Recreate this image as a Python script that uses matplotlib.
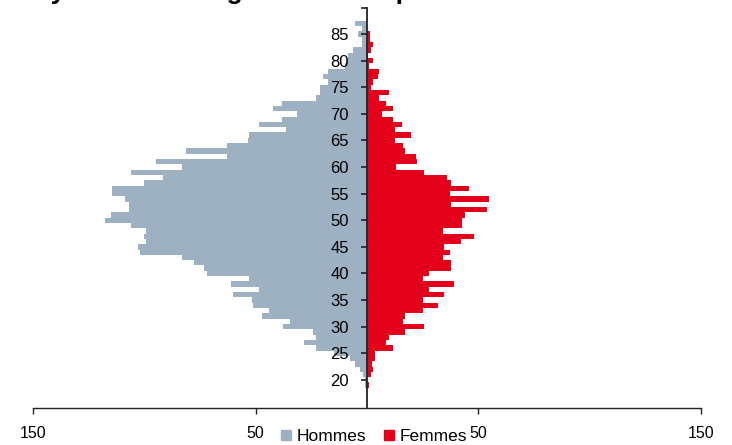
import matplotlib
matplotlib.use("Agg")
import matplotlib.pyplot as plt
from matplotlib.lines import Line2D

plt.rcParams['font.family'] = ['Liberation Sans', 'DejaVu Sans']

title = "Pyramide des âges de l'entreprise"
ages = list(range(19, 89))
hommes = [0.8, 1.0, 2.0, 3.1, 5.4, 7.6, 15, 22.9, 28.3, 22.9,
          24.3, 37.9, 34.5, 47.2, 44.2, 51.3, 51.7, 60, 48.3, 61.1,
          53.2, 71.9, 73, 77.6, 83, 102, 103, 99.3, 100, 99.3,
          106, 117.5, 115, 107, 107, 108.5, 114.5, 114.5, 100, 91.6,
          106, 83, 94.9, 62.9, 81.2, 62.9, 53.4, 53, 36.3, 48.4,
          38.3, 31.5, 42.3, 38.3, 22.9, 21, 21, 17.5, 19.7, 17.5,
          10, 9, 8.5, 6.2, 2.2, 2.2, 4, 2.4, 5.4, 0]
femmes = [1.0, 0, 1.8, 2.5, 2.1, 3.6, 3.6, 11.5, 8.5, 10,
          17, 25.6, 16, 17, 25, 31.7, 25, 34.7, 28, 39,
          25, 28, 37.7, 37.7, 34, 37.2, 34.7, 42, 48.1, 34.2,
          42.8, 42.8, 44, 54.1, 37.7, 54.8, 37.2, 45.7, 37.7, 36,
          25.6, 13, 22.6, 22, 17, 16, 12.6, 19.6, 12.6, 15.6,
          11.5, 6.6, 11.5, 8.5, 5.5, 10, 1.8, 2.5, 5.1, 5.5,
          0.8, 2.5, 0.6, 1.8, 2.5, 1.5, 1.2, 0, 0, 0]
yticks = [20, 25, 30, 35, 40, 45, 50, 55, 60, 65, 70, 75, 80, 85, 90]
ytick_labels = ['20', '25', '30', '35', '40', '45', '50', '55', '60', '65', '70', '75', '80', '85', '']
xticks = [-150, -50, 50, 150]
xtick_labels = ['150', '50', '50', '150']
series_names = ['Hommes', 'Femmes']

c_h = '#9DB1C3'
c_f = '#E2001A'

W, H = 732, 445
fig = plt.figure(figsize=(W / 100, H / 100), dpi=100)
left, right = 33 / W, 701 / W
bottom = 1 - 408 / H
top = 1 - 7.5 / H
ax = fig.add_axes([left, bottom, right - left, top - bottom])

ax.barh(ages, [-v for v in hommes], height=1.0, color=c_h, linewidth=0)
ax.barh(ages, femmes, height=1.0, color=c_f, linewidth=0)

ax.set_xlim(-150, 150)
ax.set_ylim(14.7, 90)

for s in ['top', 'right']:
    ax.spines[s].set_visible(False)
ax.spines['left'].set_position(('data', 0))
ax.spines['left'].set_color('#222222')
ax.spines['left'].set_linewidth(1.3)
ax.spines['bottom'].set_color('#222222')
ax.spines['bottom'].set_linewidth(1.0)

ax.set_yticks(yticks)
ax.set_yticklabels(ytick_labels, fontsize=12)
ax.tick_params(axis='y', direction='out', length=4, width=1.2, pad=9, colors='#222222', labelcolor='black')
ax.set_xticks(xticks)
ax.set_xticklabels(xtick_labels, fontsize=11.5)
ax.tick_params(axis='x', direction='out', length=4, width=1.0, pad=9, colors='#222222', labelcolor='black')

fig.text(33 / W, 1.0 + 0.5 / H, title, fontsize=19, fontweight='bold', ha='left', va='baseline')

handles = [Line2D([], [], marker='s', linestyle='none', markersize=7, color=c_h),
           Line2D([], [], marker='s', linestyle='none', markersize=7, color=c_f)]
fig.legend(handles, series_names, loc='center', bbox_to_anchor=(374 / W, 1 - 436 / H),
           ncol=2, frameon=False, fontsize=12.5, handlelength=0.6, handletextpad=0.3,
           columnspacing=1.0, borderpad=0, borderaxespad=0)

fig.savefig('out.png', dpi=100)
